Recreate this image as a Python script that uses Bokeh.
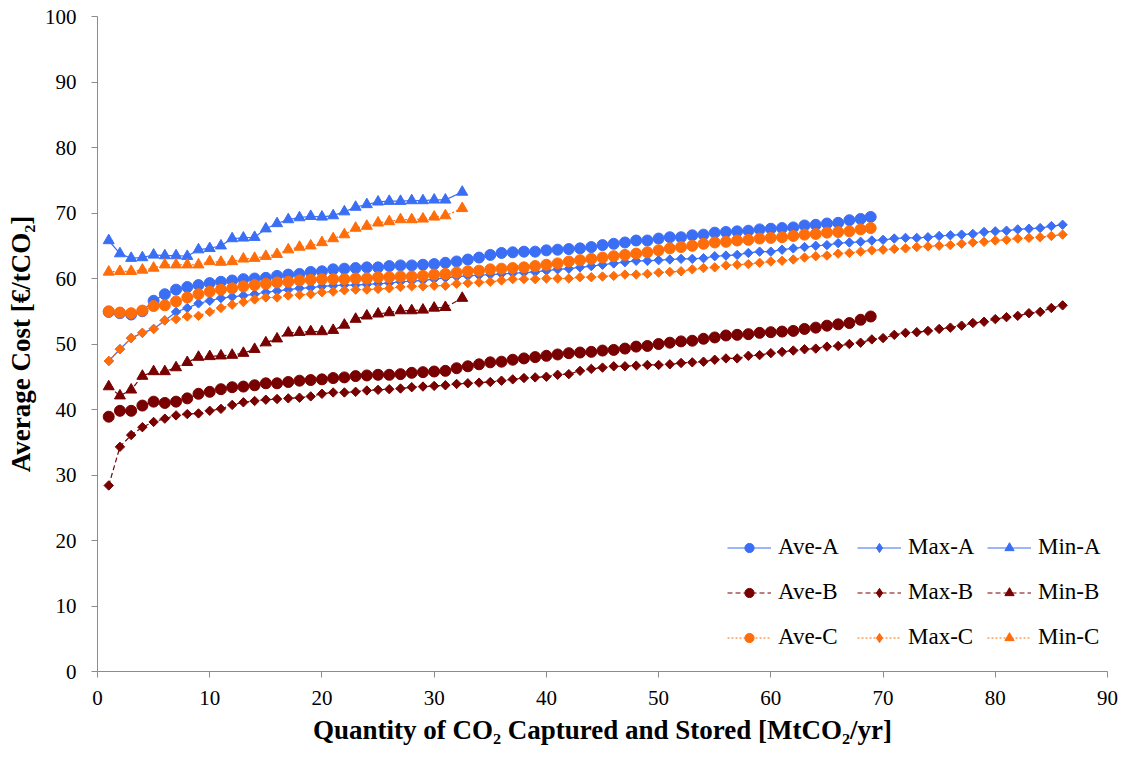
import math
from bokeh.plotting import figure
from bokeh.models import Legend, LegendItem, FixedTicker, Range1d
from bokeh.embed import file_html
from bokeh.resources import INLINE

# ---------------- data ----------------
x_ave = list(range(1, 69)) + [68.9]
x_max = list(range(1, 87))
x_min = list(range(1, 32)) + [32.5]

ave_a = [54.9, 54.7, 54.5, 55.0, 56.6, 57.6, 58.3, 58.7, 59.0, 59.3,
         59.5, 59.7, 59.9, 60.0, 60.1, 60.4, 60.6, 60.7, 61.0, 61.1,
         61.4, 61.5, 61.6, 61.7, 61.7, 61.9, 62.0, 62.0, 62.1, 62.2,
         62.4, 62.6, 62.9, 63.2, 63.6, 63.9, 64.0, 64.1, 64.1, 64.3,
         64.4, 64.5, 64.6, 64.8, 65.1, 65.3, 65.5, 65.8, 65.8, 66.1,
         66.3, 66.3, 66.6, 66.7, 67.0, 67.1, 67.2, 67.3, 67.5, 67.6,
         67.7, 67.8, 68.1, 68.2, 68.4, 68.5, 68.9, 69.1, 69.4]
max_a = [47.4, 49.2, 50.9, 51.7, 52.3, 53.6, 54.9, 55.5, 56.2, 56.6,
         57.0, 57.2, 57.4, 57.6, 57.9, 58.1, 58.3, 58.5, 58.6, 58.8,
         58.9, 59.0, 59.0, 59.1, 59.2, 59.3, 59.5, 59.6, 59.7, 59.9,
         60.1, 60.3, 60.4, 60.5, 60.6, 60.7, 60.8, 60.9, 61.0, 61.2,
         61.4, 61.5, 61.7, 61.9, 62.1, 62.3, 62.5, 62.7, 62.7, 62.8,
         62.9, 63.0, 63.0, 63.1, 63.4, 63.5, 63.6, 63.9, 64.1, 64.1,
         64.4, 64.6, 64.8, 65.0, 65.1, 65.4, 65.5, 65.6, 65.8, 65.9,
         66.1, 66.2, 66.2, 66.3, 66.5, 66.6, 66.7, 66.8, 67.1, 67.2,
         67.3, 67.5, 67.6, 67.7, 68.0, 68.2]
min_a = [65.8, 63.8, 63.1, 63.2, 63.6, 63.5, 63.5, 63.4, 64.4, 64.6,
         65.0, 66.1, 66.2, 66.3, 67.6, 68.4, 69.0, 69.3, 69.5, 69.4,
         69.6, 70.2, 70.9, 71.3, 71.7, 71.8, 71.8, 71.9, 71.9, 72.0,
         72.0, 73.2]

ave_b = [38.9, 39.8, 39.8, 40.6, 41.2, 41.0, 41.2, 41.7, 42.4, 42.7,
         43.1, 43.4, 43.5, 43.7, 44.0, 44.0, 44.2, 44.4, 44.5, 44.6,
         44.8, 44.9, 45.1, 45.2, 45.3, 45.3, 45.4, 45.6, 45.7, 45.8,
         45.9, 46.3, 46.6, 46.9, 47.2, 47.3, 47.6, 47.8, 48.0, 48.2,
         48.4, 48.6, 48.7, 48.8, 49.0, 49.1, 49.3, 49.6, 49.7, 50.0,
         50.2, 50.4, 50.5, 50.8, 51.0, 51.3, 51.4, 51.5, 51.7, 51.8,
         51.9, 52.0, 52.3, 52.5, 52.8, 53.0, 53.2, 53.7, 54.2]
max_b = [28.4, 34.3, 36.1, 37.3, 38.1, 38.6, 39.1, 39.3, 39.4, 39.8,
         40.1, 40.7, 41.1, 41.3, 41.5, 41.6, 41.7, 41.8, 42.0, 42.4,
         42.6, 42.6, 42.7, 42.9, 43.0, 43.1, 43.2, 43.4, 43.5, 43.6,
         43.7, 43.9, 44.0, 44.1, 44.2, 44.4, 44.6, 44.8, 44.9, 45.0,
         45.3, 45.4, 45.9, 46.2, 46.4, 46.6, 46.6, 46.7, 46.8, 46.8,
         46.9, 47.1, 47.2, 47.3, 47.6, 47.8, 47.8, 48.2, 48.3, 48.6,
         48.8, 49.0, 49.2, 49.3, 49.6, 49.7, 50.0, 50.2, 50.7, 50.9,
         51.4, 51.7, 51.8, 52.0, 52.3, 52.5, 52.8, 53.2, 53.4, 53.8,
         54.1, 54.3, 54.7, 54.9, 55.5, 55.9]
min_b = [43.5, 42.1, 43.0, 45.1, 45.8, 45.8, 46.4, 47.2, 48.0, 48.1,
         48.2, 48.3, 48.6, 49.2, 50.2, 50.8, 51.7, 51.8, 51.9, 51.9,
         52.1, 52.9, 53.8, 54.3, 54.6, 54.8, 55.1, 55.1, 55.2, 55.5,
         55.6, 57.0]

ave_c = [55.0, 54.8, 54.7, 55.1, 55.8, 55.9, 56.5, 57.1, 57.6, 58.0,
         58.3, 58.5, 58.8, 59.0, 59.2, 59.4, 59.5, 59.7, 59.8, 59.9,
         59.9, 59.9, 60.0, 60.0, 60.2, 60.2, 60.3, 60.3, 60.4, 60.6,
         60.7, 60.9, 61.1, 61.2, 61.4, 61.5, 61.6, 61.7, 61.9, 62.1,
         62.3, 62.6, 62.8, 63.0, 63.2, 63.4, 63.6, 63.8, 64.0, 64.3,
         64.6, 64.8, 65.0, 65.3, 65.5, 65.6, 65.8, 65.9, 66.1, 66.2,
         66.3, 66.5, 66.7, 66.8, 67.0, 67.1, 67.2, 67.5, 67.7]
max_c = [47.4, 49.2, 50.9, 51.7, 52.3, 53.6, 53.8, 54.2, 54.3, 54.9,
         55.5, 56.0, 56.4, 56.8, 57.1, 57.1, 57.4, 57.5, 57.6, 57.9,
         58.0, 58.2, 58.3, 58.3, 58.4, 58.5, 58.7, 58.8, 58.8, 58.9,
         58.9, 59.2, 59.3, 59.4, 59.5, 59.7, 59.9, 59.9, 59.9, 60.0,
         60.0, 60.0, 60.2, 60.2, 60.3, 60.4, 60.6, 60.6, 60.7, 60.9,
         61.0, 61.1, 61.4, 61.6, 61.7, 62.0, 62.1, 62.2, 62.4, 62.6,
         62.7, 62.9, 63.2, 63.4, 63.5, 63.8, 63.9, 64.1, 64.3, 64.4,
         64.5, 64.6, 64.8, 64.9, 65.0, 65.1, 65.3, 65.5, 65.6, 65.8,
         65.9, 66.1, 66.2, 66.3, 66.5, 66.7]
min_c = [61.0, 61.1, 61.1, 61.3, 61.6, 62.1, 62.1, 62.1, 62.1, 62.6,
         62.5, 62.6, 63.0, 63.1, 63.4, 63.7, 64.4, 64.8, 65.0, 65.5,
         66.1, 66.7, 67.7, 68.0, 68.5, 68.7, 69.0, 69.0, 69.1, 69.4,
         69.6, 70.7]

x_ticks = list(range(0, 91, 10))
y_ticks = list(range(0, 101, 10))

BLUE = "#3A6EF5"
RED = "#780000"
ORANGE = "#FF6D0A"
FONT = "Liberation Serif"

# ---------------- figure ----------------
p = figure(width=1124, height=755, output_backend="svg", toolbar_location=None,
           x_range=Range1d(0, 90), y_range=Range1d(0, 100),
           min_border_left=97, min_border_right=17, min_border_top=16,
           min_border_bottom=84)
p.outline_line_color = None
p.grid.visible = False
p.background_fill_color = "white"

for ax, ticks in ((p.xaxis[0], x_ticks), (p.yaxis[0], y_ticks)):
    ax.ticker = FixedTicker(ticks=ticks)
    ax.axis_line_color = "#8C8C8C"
    ax.major_tick_line_color = "#8C8C8C"
    ax.major_tick_out = 6
    ax.major_tick_in = 0
    ax.minor_tick_line_color = None
    ax.major_label_text_font = FONT
    ax.major_label_text_font_size = "21px"
    ax.major_label_text_color = "black"
    ax.axis_label_text_font = FONT
    ax.axis_label_text_font_style = "bold"
    ax.axis_label_text_color = "black"

p.xaxis.axis_label = "Quantity of CO\u2082 Captured and Stored [MtCO\u2082/yr]"
p.yaxis.axis_label = "Average Cost [\u20ac/tCO\u2082]"
p.xaxis.axis_label_text_font_size = "27px"
p.yaxis.axis_label_text_font_size = "27px"
p.xaxis.major_label_standoff = 13
p.yaxis.major_label_standoff = 15
p.xaxis.axis_label_standoff = 7
p.yaxis.axis_label_standoff = 6

series = [
    ("Ave-A", x_ave, ave_a, BLUE, "solid", "circle", 11),
    ("Max-A", x_max, max_a, BLUE, "solid", "diamond", 7),
    ("Min-A", x_min, min_a, BLUE, "solid", "triangle", 11),
    ("Ave-B", x_ave, ave_b, RED, "5 3", "circle", 11),
    ("Max-B", x_max, max_b, RED, "5 3", "diamond", 7),
    ("Min-B", x_min, min_b, RED, "5 3", "triangle", 11),
    ("Ave-C", x_ave, ave_c, ORANGE, "2 2", "circle", 11),
    ("Max-C", x_max, max_c, ORANGE, "2 2", "diamond", 7),
    ("Min-C", x_min, min_c, ORANGE, "2 2", "triangle", 11),
]

items = {}
for name, xs, ys, color, dash, marker, size in series:
    ln = p.line(xs, ys, line_color=color, line_width=1.2, line_dash=dash)
    if marker == "diamond":
        # rotated squares look like the reference's diamonds
        sc = p.scatter(xs, ys, marker="square", size=size * 0.95,
                       angle=math.pi / 4, fill_color=color,
                       line_color=color, line_width=1)
        # legend-only glyph (no visible data point)
        lg = p.scatter([float("nan")], [float("nan")], marker="diamond",
                       size=size * 1.5, fill_color=color, line_color=color)
        items[name] = LegendItem(label=name, renderers=[ln, lg])
    else:
        sc = p.scatter(xs, ys, marker=marker, size=size,
                       fill_color=color, line_color=color, line_width=1)
        items[name] = LegendItem(label=name, renderers=[ln, sc])

columns = [
    (["Ave-A", "Ave-B", "Ave-C"], 630),
    (["Max-A", "Max-B", "Max-C"], 760),
    (["Min-A", "Min-B", "Min-C"], 890),
]
for names, xoff in columns:
    leg = Legend(items=[items[n] for n in names], location=(xoff, 21),
                 orientation="vertical", glyph_width=44, glyph_height=23,
                 label_height=23, label_standoff=7, spacing=19, padding=0,
                 margin=0, border_line_color=None, background_fill_alpha=0,
                 label_text_font=FONT, label_text_font_size="23px",
                 label_text_color="black")
    p.add_layout(leg, "center")

open("out.html", "w").write(file_html(p, INLINE))
